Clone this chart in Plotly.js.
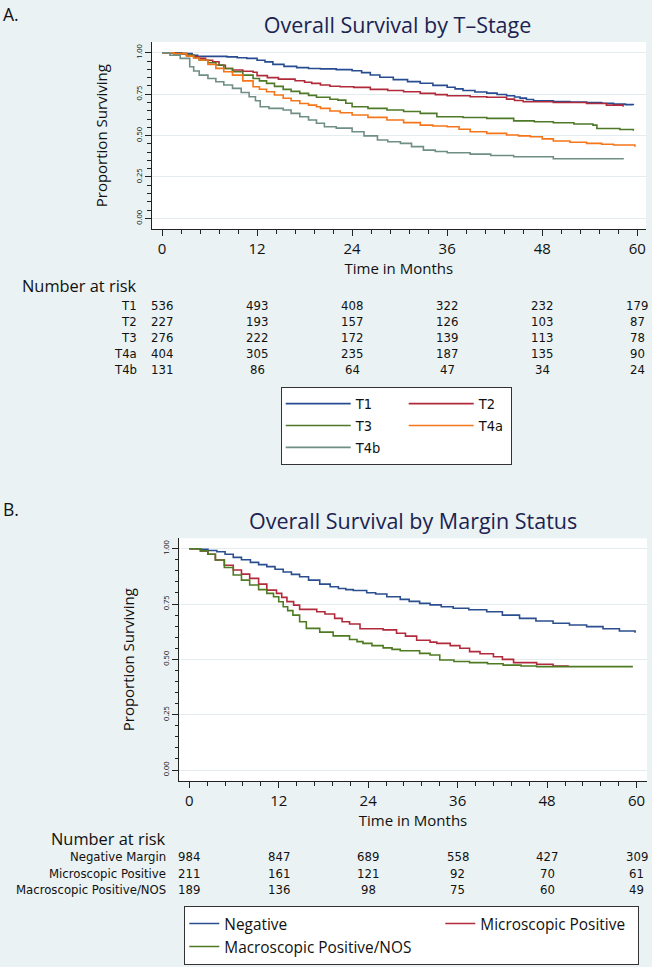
<!DOCTYPE html>
<html><head><meta charset="utf-8">
<script src="https://cdn.plot.ly/plotly-3.0.1.min.js"></script>
<style>html,body{margin:0;padding:0;background:#eaf2f3;} #chart{width:652px;height:967px;}</style>
</head><body><div id="chart"></div>
<script>
// ---------------- DATA ----------------
// Panel A: Kaplan-Meier by T-stage (months, proportion surviving)
const tStageNames = ['T1', 'T2', 'T3', 'T4a', 'T4b'];
const t1Time = [0, 2.5, 3.8, 4.5, 8.2, 9.5, 10.7, 12.0, 13.0, 14.0, 15.4, 17.0, 18.5, 20.0, 22.0, 24.0, 25.2, 26.3, 27.5, 29.2, 31.0, 32.6, 34.2, 36.0, 37.0, 38.0, 39.5, 41.0, 42.3, 43.5, 44.5, 45.2, 46.0, 46.9, 49.4, 51.5, 53.6, 55.5, 57.0, 58.5, 59.5];
const t1Surv = [1, 0.995, 0.985, 0.978, 0.975, 0.970, 0.966, 0.955, 0.945, 0.930, 0.918, 0.910, 0.905, 0.903, 0.898, 0.891, 0.880, 0.866, 0.852, 0.838, 0.826, 0.816, 0.803, 0.792, 0.782, 0.772, 0.763, 0.756, 0.748, 0.740, 0.733, 0.726, 0.718, 0.710, 0.706, 0.702, 0.699, 0.695, 0.690, 0.687, 0.684];
const t2Time = [0, 1.5, 3.1, 4.0, 4.7, 5.5, 6.4, 7.2, 8.0, 8.9, 10.2, 11.5, 12.0, 13.3, 14.7, 16.8, 18.0, 18.9, 20.0, 21.2, 22.5, 24.2, 26.3, 28.5, 30.5, 32.6, 34.5, 36.0, 38.9, 41.0, 43.5, 44.5, 45.6, 49.4, 53.6, 56.1, 58.2];
const t2Surv = [1, 0.995, 0.985, 0.975, 0.966, 0.955, 0.946, 0.925, 0.905, 0.896, 0.888, 0.882, 0.862, 0.850, 0.841, 0.831, 0.822, 0.815, 0.805, 0.798, 0.795, 0.791, 0.779, 0.772, 0.765, 0.755, 0.747, 0.740, 0.734, 0.731, 0.720, 0.712, 0.704, 0.700, 0.694, 0.684, 0.674];
const t3Time = [0, 1.5, 3.1, 4.0, 4.7, 5.8, 6.8, 7.8, 8.9, 10.2, 11.5, 12.3, 13.2, 14.2, 15.3, 16.3, 17.4, 18.5, 19.5, 21.2, 22.2, 23.2, 24.0, 26.0, 28.4, 30.5, 32.6, 34.7, 38.0, 41.0, 44.4, 47.0, 49.4, 52.0, 54.4, 54.9, 57.8, 59.5];
const t3Surv = [1, 0.995, 0.986, 0.970, 0.956, 0.940, 0.926, 0.905, 0.885, 0.865, 0.845, 0.830, 0.815, 0.797, 0.779, 0.767, 0.755, 0.743, 0.731, 0.719, 0.714, 0.695, 0.674, 0.664, 0.654, 0.645, 0.634, 0.614, 0.609, 0.604, 0.589, 0.583, 0.577, 0.570, 0.563, 0.543, 0.537, 0.529];
const t4aTime = [0, 1.5, 3.1, 4.0, 4.7, 5.8, 6.8, 7.8, 8.9, 10.2, 11.5, 12.3, 13.2, 14.2, 15.3, 16.3, 17.4, 18.5, 19.5, 20.0, 21.2, 22.5, 24.0, 26.0, 28.4, 30.5, 32.6, 34.2, 36.0, 37.5, 38.9, 41.0, 43.5, 45.0, 46.5, 48.0, 49.4, 51.5, 53.6, 55.5, 57.0, 59.7];
const t4aSurv = [1, 0.995, 0.980, 0.968, 0.956, 0.930, 0.906, 0.885, 0.865, 0.830, 0.795, 0.780, 0.765, 0.745, 0.725, 0.710, 0.694, 0.684, 0.674, 0.664, 0.648, 0.638, 0.624, 0.610, 0.594, 0.578, 0.563, 0.558, 0.553, 0.538, 0.523, 0.513, 0.503, 0.498, 0.493, 0.480, 0.467, 0.460, 0.453, 0.448, 0.443, 0.432];
const t4bTime = [0, 1.0, 2.3, 3.5, 4.0, 4.7, 5.8, 6.8, 7.8, 8.9, 10.0, 11.0, 11.8, 12.4, 13.5, 15.3, 16.3, 17.4, 18.5, 19.5, 20.5, 22.0, 24.0, 25.5, 27.2, 28.5, 30.1, 31.5, 33.0, 34.5, 36.0, 38.9, 41.5, 44.4, 49.4, 58.3];
const t4bSurv = [1, 0.985, 0.966, 0.916, 0.890, 0.865, 0.845, 0.825, 0.805, 0.785, 0.760, 0.734, 0.710, 0.674, 0.664, 0.654, 0.634, 0.614, 0.594, 0.574, 0.553, 0.545, 0.523, 0.498, 0.473, 0.463, 0.453, 0.433, 0.412, 0.404, 0.396, 0.388, 0.380, 0.372, 0.360, 0.360];

// Panel B: Kaplan-Meier by margin status
const marginNames = ['Negative', 'Microscopic Positive', 'Macroscopic Positive/NOS'];
const negTime = [0, 1.5, 2.5, 3.7, 4.8, 5.9, 7.0, 8.2, 9.3, 10.4, 11.5, 12.6, 13.7, 14.8, 16.0, 17.5, 18.9, 20.0, 21.0, 22.0, 23.8, 25.0, 26.5, 28.3, 29.5, 30.9, 32.3, 33.8, 35.4, 37.5, 39.9, 42.0, 44.3, 46.5, 48.8, 51.0, 53.3, 55.5, 57.7, 59.8];
const negSurv = [1, 0.997, 0.992, 0.986, 0.975, 0.961, 0.950, 0.938, 0.928, 0.919, 0.907, 0.895, 0.884, 0.873, 0.858, 0.840, 0.828, 0.820, 0.815, 0.811, 0.801, 0.795, 0.783, 0.771, 0.762, 0.753, 0.746, 0.738, 0.731, 0.724, 0.715, 0.700, 0.685, 0.673, 0.663, 0.655, 0.648, 0.638, 0.628, 0.620];
const micTime = [0, 1.5, 2.5, 3.5, 4.7, 5.9, 7.0, 8.1, 9.3, 10.4, 11.7, 12.4, 13.1, 14.0, 14.8, 17.1, 18.2, 19.5, 20.5, 21.5, 22.9, 26.0, 27.8, 29.0, 30.5, 32.3, 33.2, 35.0, 36.3, 37.6, 39.0, 40.8, 42.0, 43.5, 46.6, 48.8, 50.8];
const micSurv = [1, 0.990, 0.975, 0.949, 0.925, 0.904, 0.885, 0.866, 0.840, 0.813, 0.798, 0.780, 0.761, 0.745, 0.726, 0.715, 0.705, 0.685, 0.670, 0.660, 0.638, 0.633, 0.618, 0.605, 0.586, 0.578, 0.572, 0.562, 0.550, 0.535, 0.525, 0.512, 0.500, 0.485, 0.478, 0.470, 0.467];
const macTime = [0, 1.5, 2.5, 3.5, 4.7, 5.9, 7.0, 8.1, 9.3, 10.4, 11.3, 12.0, 12.6, 13.2, 13.9, 14.8, 15.7, 17.5, 19.3, 21.5, 22.5, 23.3, 24.5, 26.0, 27.2, 28.3, 30.9, 32.3, 33.6, 35.5, 37.6, 40.0, 42.1, 44.5, 46.6, 56.8, 59.5];
const macSurv = [1, 0.990, 0.975, 0.949, 0.915, 0.881, 0.858, 0.836, 0.815, 0.798, 0.783, 0.760, 0.738, 0.720, 0.700, 0.670, 0.640, 0.623, 0.606, 0.590, 0.580, 0.572, 0.562, 0.552, 0.545, 0.539, 0.527, 0.520, 0.497, 0.490, 0.485, 0.480, 0.474, 0.470, 0.467, 0.467, 0.467];

// Number at risk tables
const riskTimes = [0, 12, 24, 36, 48, 60];
const riskT1 = [536, 493, 408, 322, 232, 179];
const riskT2 = [227, 193, 157, 126, 103, 87];
const riskT3 = [276, 222, 172, 139, 113, 78];
const riskT4a = [404, 305, 235, 187, 135, 90];
const riskT4b = [131, 86, 64, 47, 34, 24];
const marginRiskLabels = ['Negative Margin', 'Microscopic Positive', 'Macroscopic Positive/NOS'];
const riskNeg = [984, 847, 689, 558, 427, 309];
const riskMic = [211, 161, 121, 92, 70, 61];
const riskMac = [189, 136, 98, 75, 60, 49];

// ---------------- STYLE / LAYOUT ----------------
const W = 652, H = 967;
const px = v => v / W;          // pixel -> paper x
const py = v => 1 - v / H;      // pixel -> paper y
const FM = 'Open Sans, Noto Sans, sans-serif';
const FN = 'DejaVu Sans Condensed, Liberation Sans Narrow, sans-serif';
const TS = 13;                  // table font size
const BG = '#eaf2f3';
const INK = '#111111';
const NAVY = '#1c2352';
const tColors = ['#284c91', '#b02a3a', '#4e7a28', '#f5761a', '#6f8f86'];
const mColors = ['#2b4f8e', '#b22a3b', '#4e7a22'];

const topTimes = [t1Time, t2Time, t3Time, t4aTime, t4bTime];
const topSurvs = [t1Surv, t2Surv, t3Surv, t4aSurv, t4bSurv];
const topRisk = [riskT1, riskT2, riskT3, riskT4a, riskT4b];
const botTimes = [negTime, micTime, macTime];
const botSurvs = [negSurv, micSurv, macSurv];
const botRisk = [riskNeg, riskMic, riskMac];

// legend column layout (style only)
const topGroup = ['c1', 'c2', 'c1', 'c2', 'c1'];
const topLegW = [43, 27, 43, 27, 43];
const botGroup = ['c1', 'c2', 'c1'];
const botLegW = [211, 153, 211];

const traces = [];
tStageNames.forEach((n, i) => {
  traces.push({
    type: 'scatter', mode: 'lines', name: n,
    x: topTimes[i], y: topSurvs[i],
    line: {shape: 'hv', color: tColors[i], width: 1.6},
    xaxis: 'x', yaxis: 'y', legend: 'legend',
    legendgroup: topGroup[i], legendwidth: topLegW[i], hoverinfo: 'skip'
  });
});
marginNames.forEach((n, i) => {
  traces.push({
    type: 'scatter', mode: 'lines', name: n,
    x: botTimes[i], y: botSurvs[i],
    line: {shape: 'hv', color: mColors[i], width: 1.6},
    xaxis: 'x2', yaxis: 'y2', legend: 'legend2',
    legendgroup: botGroup[i], legendwidth: botLegW[i], hoverinfo: 'skip'
  });
});

const yMinor = [];
for (let k = 0; k <= 20; k++) yMinor.push(k * 0.05);

function xAxis(domain, range, anchor) {
  return {
    domain: domain, range: range, anchor: anchor,
    tickmode: 'linear', tick0: 0, dtick: 12,
    ticks: 'outside', ticklen: 6, tickwidth: 1, tickcolor: '#222',
    showline: true, linecolor: '#222', linewidth: 1,
    showgrid: false, zeroline: false,
    tickfont: {family: FM, size: 15, color: INK},
    minor: {tickmode: 'linear', tick0: 0, dtick: 2.4, ticks: 'outside', ticklen: 3.5, tickwidth: 1, tickcolor: '#222', showgrid: false},
    title: {text: 'Time in Months', font: {family: FM, size: 15, color: INK}, standoff: 0},
    automargin: false, fixedrange: true
  };
}
function yAxis(domain, range, anchor) {
  return {
    domain: domain, range: range, anchor: anchor,
    tickmode: 'linear', tick0: 0, dtick: 0.25, tickformat: '.2f', tickangle: -90,
    ticks: 'outside', ticklen: 6, tickwidth: 1, tickcolor: '#222',
    showline: true, linecolor: '#222', linewidth: 1,
    showgrid: true, gridcolor: '#e3edf0', gridwidth: 1, zeroline: false,
    tickfont: {family: FM, size: 7.5, color: INK},
    minor: {tickmode: 'array', tickvals: yMinor, ticks: 'outside', ticklen: 3.5, tickwidth: 1, tickcolor: '#222', showgrid: false},
    title: {text: 'Proportion Surviving', font: {family: FM, size: 15, color: INK}, standoff: 22},
    automargin: false, fixedrange: true
  };
}

const ann = [];
function txt(x, y, text, opts) {
  ann.push(Object.assign({x: x, y: y, xref: 'paper', yref: 'paper', text: text, showarrow: false,
    xanchor: 'left', yanchor: 'middle', borderpad: 0, font: {family: FM, size: 15, color: INK}}, opts || {}));
}
// panel letters and second title
txt(px(2), py(13.5), 'A.', {font: {family: FM, size: 17.5, color: INK}});
txt(px(2), py(508.5), 'B.', {font: {family: FM, size: 17.5, color: INK}});
txt(px(413), py(520.5), 'Overall Survival by Margin Status', {xanchor: 'center', font: {family: FM, size: 21.5, color: NAVY}});

// Number at risk: panel A
txt(px(138), py(286), 'Number at risk', {xanchor: 'right', font: {family: FM, size: 16.4, color: INK}});
tStageNames.forEach((n, i) => {
  const yy = py(305.3 + 16 * i);
  txt(px(138), yy, n, {xanchor: 'right', font: {family: FN, size: TS, color: INK}});
  riskTimes.forEach((t, j) => {
    ann.push({x: t, xref: 'x', y: yy, yref: 'paper', text: String(topRisk[i][j]), showarrow: false, borderpad: 0,
      xanchor: 'center', yanchor: 'middle', font: {family: FN, size: TS, color: INK}});
  });
});
// Number at risk: panel B
txt(px(166.7), py(838), 'Number at risk', {xanchor: 'right', font: {family: FM, size: 16.4, color: INK}});
marginRiskLabels.forEach((n, i) => {
  const yy = py(856.7 + 16.3 * i);
  txt(px(166.7), yy, n, {xanchor: 'right', font: {family: FN, size: TS, color: INK}});
  riskTimes.forEach((t, j) => {
    ann.push({x: t, xref: 'x2', y: yy, yref: 'paper', text: String(botRisk[i][j]), showarrow: false, borderpad: 0,
      xanchor: 'center', yanchor: 'middle', font: {family: FN, size: TS, color: INK}});
  });
});

const layout = {
  width: W, height: H,
  margin: {l: 0, r: 0, t: 0, b: 0, pad: 0},
  paper_bgcolor: BG, plot_bgcolor: '#ffffff',
  title: {text: 'Overall Survival by T\u2013Stage', x: px(397.5), xanchor: 'center', y: py(25), yanchor: 'middle',
    font: {family: FM, size: 21.5, color: NAVY}},
  xaxis: xAxis([px(151.7), px(646)], [-1.3, 61.1], 'y'),
  yaxis: yAxis([py(229.3), py(42)], [-0.066, 1.065], 'x'),
  xaxis2: xAxis([px(179), px(647)], [-1.38, 61.4], 'y2'),
  yaxis2: yAxis([py(781), py(538.3)], [-0.0497, 1.047], 'x2'),
  showlegend: true,
  legend: {orientation: 'h', traceorder: 'grouped', x: px(280.7), xanchor: 'left', y: py(386.7), yanchor: 'top',
    bgcolor: '#ffffff', bordercolor: '#333', borderwidth: 1, itemwidth: 65,
    font: {family: FN, size: 14.5, color: INK}},
  legend2: {orientation: 'h', traceorder: 'grouped', x: px(184.3), xanchor: 'left', y: py(906), yanchor: 'top',
    bgcolor: '#ffffff', bordercolor: '#333', borderwidth: 1, itemwidth: 30,
    font: {family: FM, size: 15.4, color: INK}},
  annotations: ann
};

Plotly.newPlot('chart', traces, layout, {displayModeBar: false, staticPlot: true});
</script>
</body></html>
